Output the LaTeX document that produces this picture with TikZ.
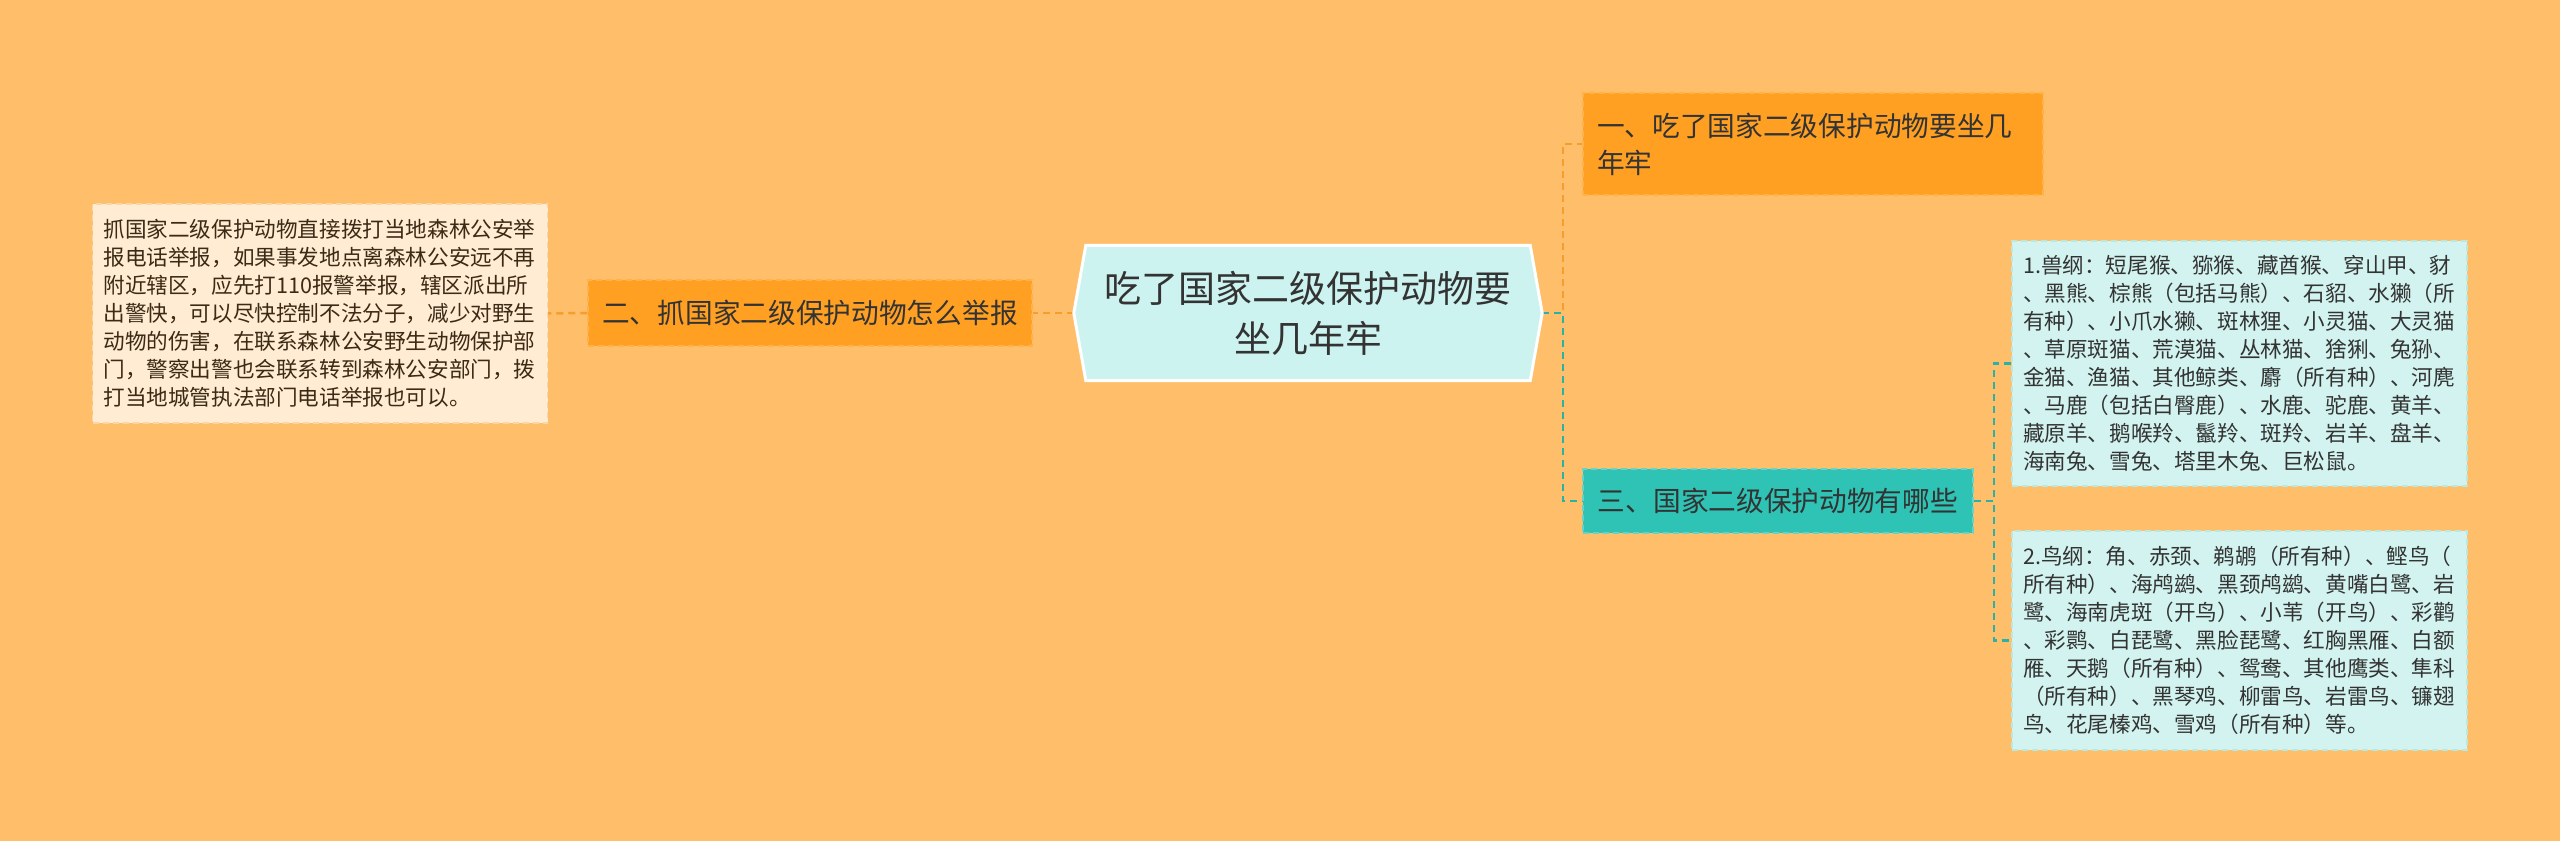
\documentclass[tikz,border=0pt]{standalone}
\usepackage{fontspec}
\setmainfont{Noto Sans CJK SC}
\usetikzlibrary{backgrounds}
\definecolor{bg}{HTML}{FFBE6A}
\definecolor{orangeN}{HTML}{FFA023}
\definecolor{orangeB}{HTML}{FFB24A}
\definecolor{tealN}{HTML}{2EC3B4}
\definecolor{tealB}{HTML}{62D4C9}
\definecolor{cyanL}{HTML}{D2F3EF}
\definecolor{cyanB}{HTML}{B9E9E3}
\definecolor{creamL}{HTML}{FFECD2}
\definecolor{creamB}{HTML}{F7D6AA}
\definecolor{rootF}{HTML}{CDF3F0}
\definecolor{lineO}{HTML}{F59E2E}
\definecolor{lineT}{HTML}{2AB2A4}
\definecolor{txt}{HTML}{333333}
\definecolor{txtB}{HTML}{3B2A16}
\begin{document}
\begin{tikzpicture}[x=1pt,y=-1pt,
  box/.style={rectangle, inner sep=0pt, text=txt, dash pattern=on 6pt off 4pt, line width=1.5pt},
  lvlone/.style={box, font=\fontsize{27.7pt}{37pt}\selectfont},
  leafbox/.style={box, font=\fontsize{21.6pt}{28pt}\selectfont, align=left, minimum width=455pt, text width=433pt},
  conO/.style={draw=lineO, line width=2.5pt, dash pattern=on 7pt off 5pt},
  conT/.style={draw=lineT, line width=2.5pt, dash pattern=on 7pt off 5pt}]
\useasboundingbox (0,0) rectangle (2560,841);

% root
\node[font=\fontsize{37pt}{50pt}\selectfont, text=txt, align=center, minimum width=468pt, minimum height=135pt, inner sep=0pt] (root) at (1308,313) {吃了国家二级保护动物要\\坐几年牢};

% level one
\node[lvlone, fill=orangeN, draw=orangeB, minimum width=444pt, minimum height=66pt] (n2) at (810,313) {二、抓国家二级保护动物怎么举报};
\node[lvlone, fill=orangeN, draw=orangeB, minimum width=460pt, minimum height=102pt, text width=432pt, align=left] (n1) at (1813,144) {一、吃了国家二级保护动物要坐几\\年牢};
\node[lvlone, fill=tealN, draw=tealB, minimum width=390pt, minimum height=64pt] (n3) at (1778,501) {三、国家二级保护动物有哪些};

% leaves
\node[leafbox, fill=creamL, draw=creamB, text=txtB, minimum height=219pt] (leafL) at (320,313.5) {抓国家二级保护动物直接拨打当地森林公安举\\报电话举报，如果事发地点离森林公安远不再\\附近辖区，应先打110报警举报，辖区派出所\\出警快，可以尽快控制不法分子，减少对野生\\动物的伤害，在联系森林公安野生动物保护部\\门，警察出警也会联系转到森林公安部门，拨\\打当地城管执法部门电话举报也可以。};

\node[leafbox, fill=cyanL, draw=cyanB, minimum height=245pt] (leafA) at (2239.5,363.5) {1.兽纲：短尾猴、猕猴、藏酋猴、穿山甲、豺\\、黑熊、棕熊（包括马熊）、石貂、水獭（所\\有种）、小爪水獭、斑林狸、小灵猫、大灵猫\\、草原斑猫、荒漠猫、丛林猫、猞猁、兔狲、\\金猫、渔猫、其他鲸类、麝（所有种）、河麂\\、马鹿（包括白臀鹿）、水鹿、驼鹿、黄羊、\\藏原羊、鹅喉羚、鬣羚、斑羚、岩羊、盘羊、\\海南兔、雪兔、塔里木兔、巨松鼠。};

\node[leafbox, fill=cyanL, draw=cyanB, minimum height=219pt] (leafB) at (2239.5,640.5) {2.鸟纲：角、赤颈、鹈鹕（所有种）、鲣鸟（\\所有种）、海鸬鹚、黑颈鸬鹚、黄嘴白鹭、岩\\鹭、海南虎斑（开鸟）、小苇（开鸟）、彩鹳\\、彩鹮、白琵鹭、黑脸琵鹭、红胸黑雁、白额\\雁、天鹅（所有种）、鸳鸯、其他鹰类、隼科\\（所有种）、黑琴鸡、柳雷鸟、岩雷鸟、镰翅\\鸟、花尾榛鸡、雪鸡（所有种）等。};

\begin{pgfonlayer}{background}
  \fill[bg] (0,0) rectangle (2560,841);
  \path[conO] (root.west) -- (n2.east);
  \path[conO] (n2.west) -- (leafL.east);
  \path[conO] (root.east) -- ++(21,0) |- (n1.west);
  \path[conT] (root.east) -- ++(21,0) |- (n3.west);
  \path[conT] (n3.east) -- ++(20,0) |- (leafA.west);
  \path[conT] (n3.east) -- ++(20,0) |- (leafB.west);
  \path[fill=rootF, draw=white, line width=3pt]
    ([xshift=12pt]root.north west) -- ([xshift=-12pt]root.north east) -- (root.east)
    -- ([xshift=-12pt]root.south east) -- ([xshift=12pt]root.south west) -- (root.west) -- cycle;
\end{pgfonlayer}
\end{tikzpicture}
\end{document}
